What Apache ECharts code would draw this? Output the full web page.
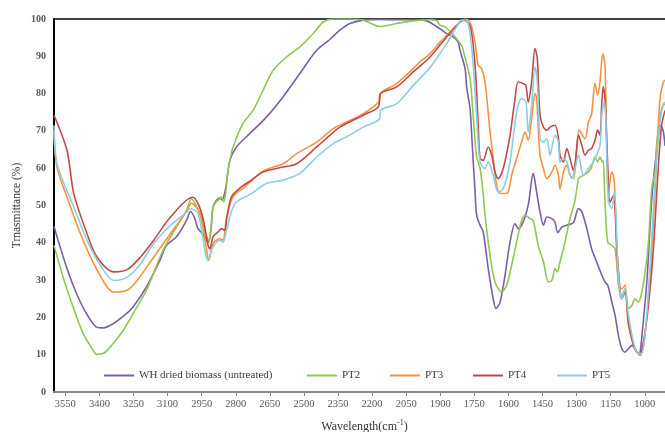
<!DOCTYPE html>
<html><head><meta charset="utf-8">
<script src="https://cdn.jsdelivr.net/npm/echarts@6/dist/echarts.min.js"></script>
<style>html,body{margin:0;padding:0;background:#fff}#c{width:665px;height:432px}</style>
</head><body><div id="c"></div><script>
const seriesNames = ['WH dried biomass (untreated)', 'PT2', 'PT3', 'PT4', 'PT5'];
const xTickLabels = [3550, 3400, 3250, 3100, 2950, 2800, 2650, 2500, 2350, 2200, 2050, 1900, 1750, 1600, 1450, 1300, 1150, 1000];

const whDried = [[3600,44.4],[3582,40.7],[3545,33.5],[3501,26.4],[3457,21.0],[3413,17.4],[3384,17.2],[3340,18.3],[3281,21.0],[3252,22.8],[3193,28.2],[3134,35.3],[3105,39.3],[3061,41.6],[3017,46.0],[2999,48.4],[2980,46.5],[2968,44.0],[2955,43.0],[2935,41.5],[2922,40.0],[2910,43.0],[2900,49.6],[2885,51.4],[2870,52.0],[2860,51.5],[2850,53.0],[2841,56.0],[2826,62.1],[2797,65.7],[2738,69.3],[2665,73.7],[2592,79.1],[2518,85.4],[2444,91.6],[2386,94.5],[2342,97.0],[2298,98.8],[2239,99.7],[2166,99.9],[2092,99.8],[1975,99.7],[1901,97.4],[1872,96.1],[1843,95.2],[1821,93.8],[1813,91.6],[1791,86.7],[1784,81.8],[1769,76.0],[1762,69.3],[1755,61.7],[1748,55.0],[1740,47.4],[1725,44.7],[1711,42.9],[1689,33.1],[1667,25.0],[1655,22.4],[1637,24.1],[1615,31.3],[1593,40.2],[1571,45.1],[1557,43.8],[1535,45.6],[1513,50.1],[1491,58.6],[1476,53.6],[1461,48.3],[1446,44.7],[1431,46.9],[1409,46.5],[1395,45.5],[1383,42.7],[1365,44.2],[1343,44.7],[1314,45.4],[1292,49.2],[1277,48.3],[1255,43.8],[1234,38.4],[1212,34.9],[1189,31.3],[1175,29.5],[1163,28.6],[1145,24.1],[1131,20.6],[1116,15.2],[1101,11.6],[1087,10.7],[1072,11.6],[1055,12.5],[1043,11.6],[1028,10.3],[1021,10.5],[1011,16.1],[991,29.5],[969,51.8],[947,65.3],[929,71.5],[918,69.7],[911,66.0]];

const pt2 = [[3600,39.3],[3560,30.8],[3516,22.8],[3472,15.7],[3428,11.2],[3413,10.1],[3384,10.3],[3340,13.0],[3296,16.5],[3252,21.0],[3193,27.3],[3120,38.0],[3061,44.2],[3017,48.7],[2995,51.8],[2970,49.5],[2951,46.9],[2935,43.0],[2918,40.5],[2910,43.5],[2900,49.6],[2885,51.0],[2870,51.8],[2863,52.3],[2853,51.0],[2845,53.0],[2838,57.5],[2826,62.1],[2812,65.7],[2768,72.0],[2724,75.5],[2680,80.9],[2636,86.2],[2577,89.8],[2518,92.5],[2459,96.1],[2415,99.2],[2371,100],[2298,100],[2239,99.7],[2166,98.0],[2092,98.8],[2019,99.5],[1945,99.8],[1916,99.6],[1901,98.3],[1879,97.9],[1843,95.8],[1806,92.9],[1799,91.6],[1769,84.0],[1755,73.7],[1740,63.0],[1725,60.0],[1711,53.0],[1703,47.4],[1681,36.6],[1659,29.5],[1630,26.8],[1608,28.6],[1586,34.0],[1564,40.2],[1542,46.0],[1527,47.4],[1505,46.5],[1491,46.0],[1469,39.3],[1446,34.9],[1424,29.5],[1409,29.9],[1395,33.1],[1385,32.2],[1373,34.9],[1358,38.4],[1343,42.5],[1329,46.5],[1307,51.5],[1292,57.2],[1285,57.6],[1270,58.1],[1248,59.0],[1234,60.3],[1219,63.0],[1207,61.7],[1197,63.0],[1187,61.7],[1183,62.0],[1175,50.9],[1163,40.2],[1145,39.3],[1131,38.4],[1116,29.5],[1104,25.0],[1087,27.7],[1072,22.4],[1057,23.2],[1043,25.0],[1028,24.1],[1013,26.8],[999,32.0],[984,40.0],[969,55.0],[955,58.6],[947,67.0],[926,76.0],[911,77.3]];

const pt3 = [[3600,70.1],[3587,60.3],[3543,52.3],[3484,42.5],[3425,34.4],[3367,28.2],[3337,26.8],[3278,27.3],[3234,29.9],[3161,36.2],[3087,42.5],[3014,48.7],[2995,50.6],[2958,47.8],[2922,35.8],[2919,35.3],[2900,39.8],[2870,41.1],[2856,40.7],[2841,46.5],[2812,52.3],[2760,55.0],[2680,59.2],[2592,61.2],[2532,63.9],[2444,67.0],[2371,70.6],[2327,72.0],[2239,74.6],[2166,78.2],[2163,80.0],[2092,82.7],[2019,86.7],[1990,88.5],[1945,90.7],[1901,93.8],[1857,96.5],[1813,99.2],[1791,100],[1769,99.2],[1747,93.8],[1733,87.6],[1718,86.7],[1703,83.1],[1681,69.7],[1667,62.6],[1652,55.4],[1637,53.2],[1615,53.2],[1601,53.6],[1586,58.1],[1564,62.6],[1542,67.0],[1527,69.7],[1513,67.5],[1498,73.3],[1483,80.0],[1476,78.7],[1461,63.5],[1446,59.9],[1431,57.2],[1409,59.0],[1395,60.8],[1380,58.1],[1373,54.5],[1358,59.0],[1343,60.8],[1329,58.1],[1314,57.2],[1299,65.3],[1289,70.2],[1263,67.9],[1248,72.4],[1234,74.6],[1219,82.7],[1207,79.6],[1197,83.1],[1185,90.7],[1175,87.6],[1160,53.6],[1145,59.0],[1134,56.3],[1116,28.6],[1101,27.7],[1087,28.6],[1072,17.9],[1043,11.6],[1021,9.8],[999,15.2],[969,38.4],[947,63.5],[933,78.7],[918,83.1],[911,83.6]];

const pt4 = [[3600,74.2],[3543,64.8],[3513,53.2],[3455,42.5],[3411,36.2],[3337,32.2],[3278,32.8],[3219,36.2],[3161,40.7],[3087,46.9],[2990,52.2],[2966,50.5],[2944,46.5],[2922,39.3],[2914,38.4],[2900,41.6],[2878,42.9],[2863,43.8],[2848,43.3],[2841,46.0],[2819,52.3],[2775,55.0],[2731,56.8],[2680,59.0],[2592,60.3],[2532,61.2],[2444,65.7],[2386,68.8],[2342,71.0],[2239,74.2],[2173,76.4],[2163,80.0],[2092,81.8],[2019,85.8],[1945,89.8],[1872,95.2],[1813,99.2],[1799,99.7],[1769,98.3],[1747,87.6],[1733,71.5],[1725,62.6],[1711,62.1],[1689,65.7],[1674,63.5],[1659,59.0],[1645,57.2],[1623,59.9],[1593,68.8],[1571,78.7],[1557,83.1],[1535,82.7],[1523,82.2],[1513,77.7],[1498,83.1],[1483,92.1],[1473,89.4],[1461,74.2],[1446,71.0],[1431,70.2],[1417,71.0],[1395,71.5],[1380,68.0],[1373,63.5],[1358,61.7],[1343,65.3],[1329,62.6],[1314,59.4],[1304,62.6],[1292,68.8],[1277,66.1],[1263,63.5],[1248,64.8],[1234,65.3],[1219,67.5],[1207,70.2],[1197,68.8],[1189,77.7],[1183,81.8],[1175,78.7],[1163,60.8],[1153,50.9],[1138,52.7],[1123,38.4],[1109,27.7],[1101,25.0],[1087,26.8],[1072,18.8],[1050,12.5],[1035,10.7],[1021,10.3],[1006,13.4],[984,23.2],[962,38.4],[940,60.8],[926,71.5],[911,75.5]];

const pt5 = [[3600,71.5],[3587,61.2],[3513,49.6],[3455,40.7],[3396,34.0],[3337,29.9],[3278,30.8],[3219,34.4],[3161,39.8],[3087,44.7],[3014,48.3],[3002,49.2],[2966,47.8],[2922,35.3],[2900,38.9],[2870,40.7],[2856,40.2],[2841,43.3],[2804,50.5],[2731,53.2],[2665,55.9],[2592,56.8],[2518,58.6],[2444,63.0],[2371,66.6],[2312,68.4],[2239,71.0],[2166,73.3],[2163,75.5],[2092,77.3],[2019,82.2],[1945,87.0],[1872,93.4],[1828,97.9],[1806,99.7],[1777,98.8],[1755,87.6],[1740,74.2],[1725,61.7],[1703,59.9],[1689,61.7],[1667,58.1],[1645,53.6],[1623,54.5],[1593,61.7],[1564,75.1],[1542,78.7],[1523,77.7],[1513,69.7],[1498,76.9],[1483,87.1],[1473,83.1],[1461,67.9],[1446,67.0],[1431,67.9],[1417,63.5],[1395,68.8],[1380,67.0],[1373,61.7],[1358,62.6],[1343,61.7],[1321,57.2],[1307,59.9],[1292,63.5],[1270,58.1],[1248,59.9],[1226,61.7],[1212,63.5],[1197,66.1],[1189,74.2],[1179,77.7],[1172,74.2],[1160,50.9],[1145,49.2],[1134,53.6],[1116,31.3],[1101,25.0],[1087,27.7],[1072,20.6],[1050,13.4],[1035,10.7],[1016,10.3],[999,15.2],[977,33.1],[955,56.3],[933,72.4],[918,77.3],[911,77.7]];

const seriesData = [whDried, pt2, pt3, pt4, pt5];
const colors = ['#7B5EA7', '#8FC94F', '#F7923E', '#BE4B48', '#8DCDE0'];
const legendLeft = [104, 307, 390, 473, 557];
const FONT = 'Liberation Serif';

const chart = echarts.init(document.getElementById('c'), null, {renderer: 'canvas'});
chart.setOption({
  animation: false,
  backgroundColor: '#ffffff',
  grid: {left: 54, right: 0, top: 19, bottom: 40, containLabel: false, outerBoundsMode: 'none'},
  legend: seriesNames.map((n, i) => ({
    data: [n], left: legendLeft[i], top: 370, padding: 0, icon: 'rect', itemWidth: 30, itemHeight: 2, itemGap: 0,
    textStyle: {fontFamily: FONT, fontSize: 11, color: '#404040'}
  })),
  xAxis: [{
    type: 'value', inverse: true, min: 911, max: 3600, position: 'bottom',
    name: 'Wavelength(cm{sup|-1})', nameLocation: 'middle', nameGap: 27, nameMoveOverlap: false,
    nameTextStyle: {fontFamily: FONT, fontSize: 12, color: '#333', padding: [0, 0, 0, 10],
      rich: {sup: {fontFamily: FONT, fontSize: 8, color: '#333', padding: [0, 0, 8, 0]}}},
    axisLine: {show: true, lineStyle: {color: '#8a8a8a', width: 2}},
    axisTick: {show: true, customValues: xTickLabels, length: 4, lineStyle: {color: '#8a8a8a', width: 1}},
    axisLabel: {customValues: xTickLabels, formatter: v => String(v), fontFamily: FONT, fontSize: 10.5, color: '#595959', margin: 7},
    splitLine: {show: false}
  }, {
    type: 'value', inverse: true, min: 911, max: 3600, position: 'top',
    axisLine: {show: true, lineStyle: {color: '#000', width: 1.5}},
    axisTick: {show: false}, axisLabel: {show: false}, splitLine: {show: false}
  }],
  yAxis: {
    type: 'value', min: 0, max: 100, interval: 10,
    name: 'Trnasmittance (%)', nameLocation: 'middle', nameGap: 31, nameRotate: 90, nameMoveOverlap: false,
    nameTextStyle: {fontFamily: FONT, fontSize: 11.5, color: '#333'},
    axisLine: {show: true, lineStyle: {color: '#000', width: 2}},
    axisTick: {show: false},
    axisLabel: {fontFamily: FONT, fontSize: 10, fontWeight: 'bold', color: '#595959', margin: 8},
    splitLine: {show: false}
  },
  series: seriesNames.map((n, i) => ({
    name: n, type: 'line', data: seriesData[i], symbol: 'none', smooth: 0.3,
    color: colors[i], lineStyle: {width: 1.6, color: colors[i]}, z: 2 + i
  }))
});
</script></body></html>
